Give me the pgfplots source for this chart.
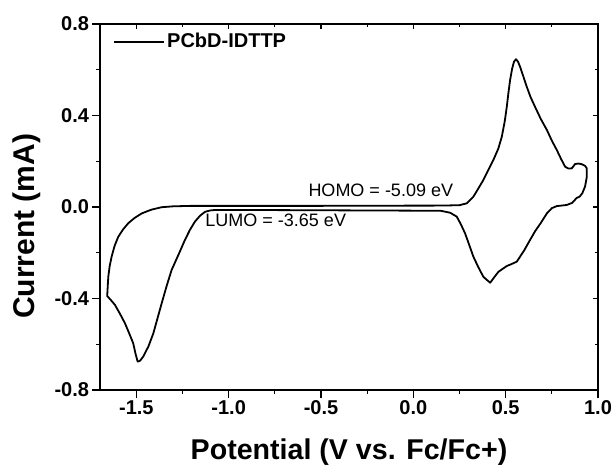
\documentclass[border=0pt]{standalone}
\usepackage{fontspec}
\setmainfont{Liberation Sans}
\usepackage{pgfplots}
\pgfplotsset{compat=1.18}

\pgfplotstableread{
V I
0.000 0.006
0.100 0.006
0.200 0.007
0.250 0.008
0.289 0.016
0.325 0.045
0.355 0.085
0.379 0.118
0.405 0.160
0.433 0.205
0.460 0.255
0.479 0.307
0.495 0.375
0.506 0.438
0.515 0.500
0.524 0.555
0.535 0.605
0.545 0.635
0.556 0.646
0.567 0.635
0.578 0.613
0.596 0.570
0.614 0.526
0.635 0.480
0.659 0.438
0.690 0.385
0.723 0.337
0.750 0.290
0.777 0.249
0.800 0.210
0.822 0.176
0.840 0.168
0.858 0.169
0.876 0.188
0.895 0.190
0.912 0.187
0.930 0.180
0.939 0.169
0.939 0.130
0.930 0.090
0.915 0.060
0.900 0.045
0.885 0.040
0.860 0.018
0.831 0.009
0.800 0.006
0.777 0.004
0.750 -0.005
0.723 -0.028
0.690 -0.070
0.660 -0.105
0.632 -0.144
0.600 -0.190
0.560 -0.239
0.530 -0.250
0.506 -0.258
0.461 -0.283
0.440 -0.305
0.416 -0.331
0.400 -0.320
0.379 -0.305
0.350 -0.260
0.325 -0.217
0.300 -0.160
0.280 -0.115
0.257 -0.075
0.235 -0.042
0.199 -0.025
0.145 -0.016
0.000 -0.016
-0.300 -0.015
-0.600 -0.014
-0.900 -0.013
-1.000 -0.013
-1.074 -0.013
-1.100 -0.015
-1.128 -0.021
-1.155 -0.038
-1.183 -0.064
-1.210 -0.100
-1.237 -0.144
-1.270 -0.205
-1.309 -0.275
-1.336 -0.345
-1.363 -0.421
-1.385 -0.485
-1.408 -0.552
-1.435 -0.610
-1.463 -0.654
-1.480 -0.672
-1.493 -0.676
-1.505 -0.640
-1.517 -0.596
-1.540 -0.550
-1.562 -0.508
-1.590 -0.465
-1.616 -0.428
-1.640 -0.405
-1.658 -0.389
-1.655 -0.345
-1.652 -0.305
-1.645 -0.260
-1.634 -0.217
-1.618 -0.170
-1.598 -0.130
-1.572 -0.098
-1.544 -0.071
-1.510 -0.048
-1.471 -0.028
-1.420 -0.012
-1.364 -0.001
-1.300 0.003
-1.200 0.005
-1.000 0.005
-0.500 0.005
0.000 0.006
}\cvdata

\begin{document}
\begin{tikzpicture}
\pgfplotsset{
  cvbase/.style={
    scale only axis,
    width=249pt, height=183pt,
    xmin=-1.697, xmax=1.0,
    ymin=-0.8, ymax=0.8,
    xtick={-1.5,-1,-0.5,0,0.5,1},
    ytick={-0.8,-0.4,0,0.4,0.8},
    minor x tick num=1,
    minor y tick num=1,
    axis line style={line width=0.6pt},
    every tick/.style={black, line width=0.6pt},
  }
}
\begin{axis}[
  cvbase,
  xtick pos=left, ytick pos=left,
  tick align=outside,
  major tick length=3.8pt,
  minor tick length=2pt,
  xticklabels={-1.5,-1.0,-0.5,0.0,0.5,1.0},
  yticklabels={-0.8,-0.4,0.0,0.4,0.8},
  ticklabel style={font=\bfseries\fontsize{10}{12}\selectfont},
  yticklabel style={inner sep=1.5pt},
  xticklabel style={inner sep=1.5pt},
  xlabel={Potential (V vs. Fc/Fc+)},
  ylabel={Current (mA)},
  xlabel style={font=\bfseries\fontsize{14.3}{16}\selectfont,
    at={(axis description cs:0.5,-0.191)}, anchor=base},
  ylabel style={font=\bfseries\fontsize{15}{16}\selectfont,
    at={(axis description cs:-0.1325,0.447)}, anchor=base},
  legend style={at={(axis description cs:0,1)}, anchor=west,
    xshift=6.5pt, yshift=-9pt, draw=none, fill=none, inner sep=0pt,
    font=\bfseries\fontsize{10}{12}\selectfont, nodes={inner sep=1pt}},
  legend image code/.code={\draw[#1] (0pt,0pt) -- (25pt,0pt);},
]
\addplot[black, line width=0.9pt, line join=round] table[x=V, y=I] {\cvdata};
\addlegendentry{PCbD-IDTTP}
\node[anchor=base west, font=\fontsize{9}{11}\selectfont, inner sep=0pt] at (axis cs:-0.57,0.045) {HOMO = -5.09 eV};
\node[anchor=base west, font=\fontsize{9}{11}\selectfont, inner sep=0pt] at (axis cs:-1.128,-0.086) {LUMO = -3.65 eV};
\end{axis}
\begin{axis}[
  cvbase,
  xtick pos=right, ytick pos=right,
  tick align=inside,
  major tick length=2.5pt,
  minor tick length=1.5pt,
  xticklabels={}, yticklabels={},
]
\end{axis}
\pgfresetboundingbox
\useasboundingbox (-50pt,-39pt) rectangle (257.5pt,195pt);
\end{tikzpicture}
\end{document}
